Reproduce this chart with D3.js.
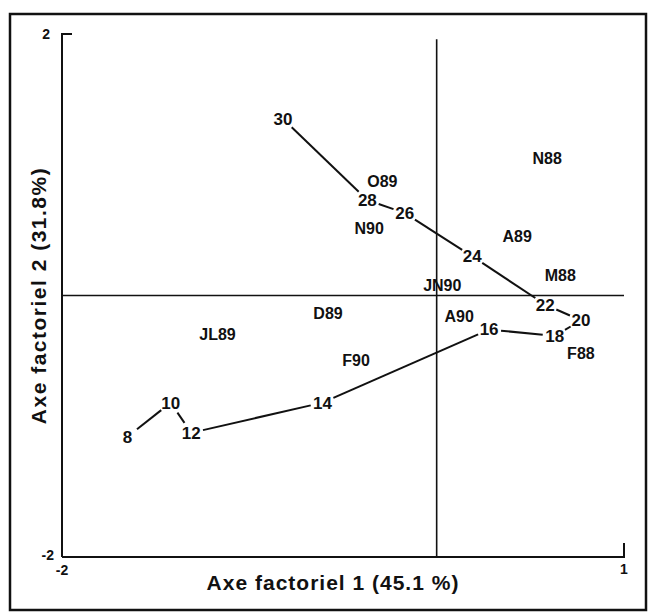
<!DOCTYPE html>
<html>
<head>
<meta charset="utf-8">
<script src="https://cdn.jsdelivr.net/npm/d3@7"></script>
<style>
  body { margin: 0; background: #fff; }
  text { font-family: "Liberation Sans", Arial, sans-serif; fill: #111; }
</style>
</head>
<body>
<div id="chart"></div>
<script>
// trajectory (numbered points joined by a line, in order)
const pathLabels = ["8", "10", "12", "14", "16", "18", "20", "22", "24", "26", "28", "30"];
const pathX = [-1.65, -1.42, -1.31, -0.61, 0.28, 0.63, 0.77, 0.58, 0.19, -0.17, -0.37, -0.82];
const pathY = [-1.08, -0.82, -1.05, -0.82, -0.26, -0.31, -0.19, -0.07, 0.30, 0.63, 0.73, 1.35];

// month labels (no line)
const monthLabels = ["N88", "M88", "F88", "O89", "N90", "A89", "JN90", "D89", "A90", "JL89", "F90"];
const monthX = [0.59, 0.66, 0.77, -0.29, -0.36, 0.43, 0.03, -0.58, 0.12, -1.17, -0.43];
const monthY = [1.05, 0.15, -0.44, 0.87, 0.51, 0.45, 0.08, -0.14, -0.16, -0.30, -0.50];

const xDomain = [-2, 1];
const yDomain = [-2, 2];
const xTitle = "Axe factoriel 1 (45.1 %)";
const yTitle = "Axe factoriel 2 (31.8%)";

const width = 651, height = 613;
const margin = { top: 34, right: 27, bottom: 56, left: 62 };

const svg = d3.select("#chart").append("svg")
  .attr("width", width)
  .attr("height", height)
  .attr("viewBox", [0, 0, width, height]);

// outer frame
svg.append("rect")
  .attr("x", 10).attr("y", 14)
  .attr("width", 636).attr("height", 596)
  .attr("fill", "none").attr("stroke", "#111").attr("stroke-width", 2.5);

const x = d3.scaleLinear().domain(xDomain).range([margin.left, width - margin.right]);
const y = d3.scaleLinear().domain(yDomain).range([height - margin.bottom, margin.top]);

const axes = svg.append("g").attr("stroke", "#111").attr("stroke-width", 2).attr("fill", "none");

// left axis with top tick
axes.append("path")
  .attr("d", `M${x(-2) + 10},${y(2)}H${x(-2)}V${y(-2)}`);
// bottom axis with right tick
axes.append("path")
  .attr("d", `M${x(-2)},${y(-2)}H${x(1)}V${y(-2) - 14}`);
// zero lines
axes.append("line")
  .attr("x1", x(-2)).attr("x2", x(1))
  .attr("y1", y(0)).attr("y2", y(0))
  .attr("stroke-width", 1.6);
axes.append("line")
  .attr("x1", x(0)).attr("x2", x(0))
  .attr("y1", y(1.96)).attr("y2", y(-2))
  .attr("stroke-width", 1.6);

// tick labels
const tl = svg.append("g").attr("font-size", 14).attr("font-weight", "bold");
tl.append("text").attr("x", x(-2) - 12).attr("y", y(2)).attr("dy", "0.35em")
  .attr("text-anchor", "end").text("2");
tl.append("text").attr("x", x(-2) - 8).attr("y", y(-2)).attr("dy", "0.2em")
  .attr("text-anchor", "end").text("-2");
tl.append("text").attr("x", x(-2)).attr("y", y(-2) + 13).attr("dy", "0.35em")
  .attr("text-anchor", "middle").text("-2");
tl.append("text").attr("x", x(1)).attr("y", y(-2) + 12).attr("dy", "0.35em")
  .attr("text-anchor", "middle").text("1");

// axis titles
svg.append("text")
  .attr("x", 333).attr("y", 583).attr("dy", "0.35em")
  .attr("text-anchor", "middle")
  .attr("font-size", 21).attr("font-weight", "bold")
  .attr("letter-spacing", 1)
  .text(xTitle);
svg.append("text")
  .attr("transform", `translate(39,${y(0)}) rotate(-90)`)
  .attr("dy", "0.35em")
  .attr("text-anchor", "middle")
  .attr("font-size", 21).attr("font-weight", "bold")
  .attr("letter-spacing", 1.5)
  .text(yTitle);

// trajectory segments, trimmed so they stop short of the labels
const pts = pathLabels.map((d, i) => ({ label: d, px: x(pathX[i]), py: y(pathY[i]) }));
const trim = 12;
const segs = d3.pairs(pts).map(([a, b]) => {
  const dx = b.px - a.px, dy = b.py - a.py;
  const len = Math.hypot(dx, dy);
  const ux = dx / len, uy = dy / len;
  return { x1: a.px + ux * trim, y1: a.py + uy * trim, x2: b.px - ux * trim, y2: b.py - uy * trim };
});

svg.append("g")
  .attr("stroke", "#111").attr("stroke-width", 2)
  .selectAll("line")
  .data(segs)
  .join("line")
  .attr("x1", d => d.x1).attr("y1", d => d.y1)
  .attr("x2", d => d.x2).attr("y2", d => d.y2);

svg.append("g")
  .attr("font-size", 17).attr("font-weight", "bold")
  .attr("text-anchor", "middle")
  .selectAll("text")
  .data(pts)
  .join("text")
  .attr("x", d => d.px)
  .attr("y", d => d.py)
  .attr("dy", "0.35em")
  .text(d => d.label);

svg.append("g")
  .attr("font-size", 16).attr("font-weight", "bold")
  .attr("text-anchor", "middle")
  .selectAll("text")
  .data(monthLabels)
  .join("text")
  .attr("x", (d, i) => x(monthX[i]))
  .attr("y", (d, i) => y(monthY[i]))
  .attr("dy", "0.35em")
  .text(d => d);
</script>
</body>
</html>
